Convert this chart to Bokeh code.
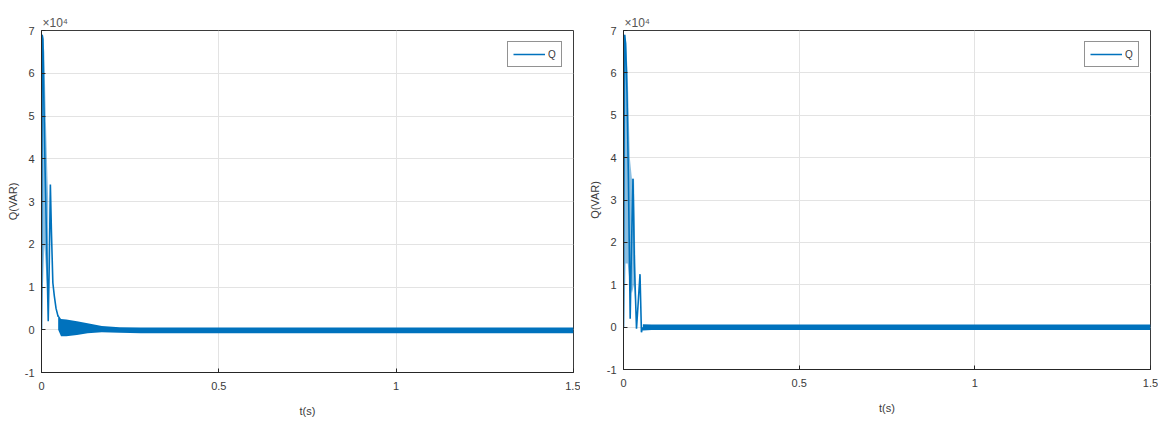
from bokeh.plotting import figure
from bokeh.layouts import row
from bokeh.models import FixedTicker, Range1d
from bokeh.embed import file_html
from bokeh.resources import INLINE

# ---- data (Q in units of 1e4 VAR, t in s) ----
x_ticks = [0, 0.5, 1, 1.5]
x_tick_labels = ["0", "0.5", "1", "1.5"]
y_ticks = [-1, 0, 1, 2, 3, 4, 5, 6, 7]
y_tick_labels = ["-1", "0", "1", "2", "3", "4", "5", "6", "7"]

# left panel
l_spike_t = [0.000, 0.002, 0.004, 0.007, 0.010, 0.013, 0.016, 0.019, 0.022, 0.025, 0.028, 0.032, 0.036, 0.041, 0.047]
l_spike_q = [0.0, 6.9, 6.8, 5.2, 3.8, 2.6, 1.4, 0.2, 1.6, 3.4, 2.3, 1.1, 0.8, 0.5, 0.3]
l_fill_t = [0.001, 0.004, 0.008, 0.012, 0.016, 0.019]
l_fill_hi = [6.9, 6.9, 6.5, 5.0, 3.8, 3.0]
l_fill_lo = [0.0, 1.0, 2.0, 1.5, 1.0, 0.5]
l_band_t = [0.047, 0.055, 0.07, 0.10, 0.13, 0.17, 0.22, 0.28, 0.40, 0.60, 0.80, 1.00, 1.20, 1.40, 1.50]
l_band_hi = [0.35, 0.25, 0.24, 0.20, 0.15, 0.09, 0.06, 0.05, 0.05, 0.05, 0.05, 0.05, 0.05, 0.05, 0.05]
l_band_lo = [0.00, -0.15, -0.15, -0.12, -0.08, -0.06, -0.07, -0.08, -0.08, -0.08, -0.08, -0.08, -0.08, -0.08, -0.08]

# right panel
r_spike_t = [0.000, 0.003, 0.006, 0.010, 0.014, 0.019, 0.023, 0.027, 0.031, 0.037, 0.042, 0.047, 0.051, 0.055]
r_spike_q = [0.0, 6.9, 6.7, 5.5, 3.5, 0.2, 2.0, 3.5, 1.5, -0.04, 0.6, 1.25, -0.12, 0.0]
r_fill_t = [0.002, 0.006, 0.012, 0.018, 0.024, 0.030, 0.034]
r_fill_hi = [6.9, 6.9, 6.0, 4.0, 3.5, 3.5, 1.5]
r_fill_lo = [0.0, 1.5, 1.5, 1.0, 0.8, 1.0, 0.5]
r_band_t = [0.055, 0.08, 0.20, 0.40, 0.60, 0.80, 1.00, 1.20, 1.40, 1.50]
r_band_hi = [0.07, 0.06, 0.06, 0.06, 0.06, 0.06, 0.06, 0.06, 0.06, 0.06]
r_band_lo = [-0.08, -0.07, -0.07, -0.07, -0.07, -0.07, -0.07, -0.07, -0.07, -0.07]

BLUE = "#0072BD"
AX = "#262626"
TXT = "#3a3a3a"
FONT = "Liberation Sans"


def make_panel(spike_t, spike_q, fill_t, fill_hi, fill_lo, band_t, band_hi, band_lo,
               fw, fh, bl, bt, br, bb):
    p = figure(frame_width=fw, frame_height=fh, output_backend="svg", toolbar_location=None,
               x_range=Range1d(0, 1.5), y_range=Range1d(-1, 7),
               min_border_left=bl, min_border_top=bt, min_border_right=br, min_border_bottom=bb,
               background_fill_color="white", border_fill_color="white")
    p.outline_line_color = AX
    p.outline_line_width = 1
    p.outline_line_alpha = 0.9

    p.title.text = "×10⁴"
    p.title.align = "left"
    p.title.offset = 1
    p.title.standoff = 2
    p.title.text_font = FONT
    p.title.text_font_size = "12px"
    p.title.text_font_style = "normal"
    p.title.text_color = "#555555"

    p.varea(x=fill_t, y1=fill_lo, y2=fill_hi, fill_color=BLUE, fill_alpha=0.45)
    p.varea(x=band_t, y1=band_lo, y2=band_hi, fill_color=BLUE, fill_alpha=1.0)
    p.line(spike_t, spike_q, line_color=BLUE, line_width=1.6, legend_label="Q")

    for ax in (p.xaxis[0], p.yaxis[0]):
        ax.axis_line_color = AX
        ax.major_tick_line_color = AX
        ax.major_tick_in = 4
        ax.major_tick_out = 0
        ax.minor_tick_line_color = None
        ax.major_label_text_font = FONT
        ax.major_label_text_font_size = "11px"
        ax.major_label_text_color = TXT
        ax.axis_label_text_font = FONT
        ax.axis_label_text_font_size = "11px"
        ax.axis_label_text_font_style = "normal"
        ax.axis_label_text_color = TXT

    p.xaxis[0].ticker = FixedTicker(ticks=x_ticks)
    p.xaxis[0].major_label_overrides = {t: s for t, s in zip(x_ticks, x_tick_labels)}
    p.xaxis[0].major_label_standoff = 9
    p.xaxis[0].axis_label = "t(s)"
    p.xaxis[0].axis_label_standoff = 12

    p.yaxis[0].ticker = FixedTicker(ticks=y_ticks)
    p.yaxis[0].major_label_overrides = {t: s for t, s in zip(y_ticks, y_tick_labels)}
    p.yaxis[0].major_label_standoff = 7
    p.yaxis[0].axis_label = "Q(VAR)"
    p.yaxis[0].axis_label_standoff = 3

    p.xgrid.grid_line_color = "#e3e3e3"
    p.ygrid.grid_line_color = "#e3e3e3"
    p.xgrid.ticker = FixedTicker(ticks=x_ticks)
    p.ygrid.ticker = FixedTicker(ticks=y_ticks)

    p.legend.location = "top_right"
    p.legend.margin = 11
    p.legend.padding = 5
    p.legend.spacing = 0
    p.legend.label_standoff = 3
    p.legend.glyph_width = 32
    p.legend.glyph_height = 14
    p.legend.label_width = 8
    p.legend.label_height = 12
    p.legend.label_text_font = FONT
    p.legend.label_text_font_size = "10px"
    p.legend.label_text_color = TXT
    p.legend.border_line_color = AX
    p.legend.border_line_width = 1
    p.legend.background_fill_color = "white"
    return p


left = make_panel(l_spike_t, l_spike_q, l_fill_t, l_fill_hi, l_fill_lo,
                  l_band_t, l_band_hi, l_band_lo, 532, 342, 41, 30, 7, 50)
right = make_panel(r_spike_t, r_spike_q, r_fill_t, r_fill_hi, r_fill_lo,
                   r_band_t, r_band_hi, r_band_lo, 527, 339, 43, 29, 8, 54)

layout = row(left, right, spacing=0)
open("out.html", "w").write(file_html(layout, INLINE))
